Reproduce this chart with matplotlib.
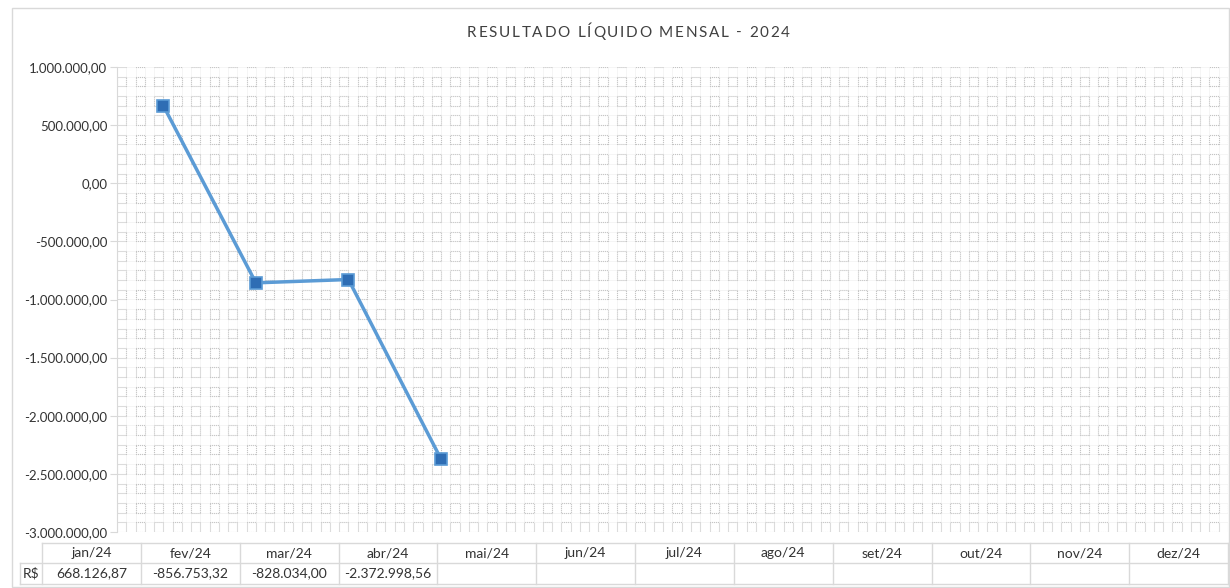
import matplotlib
matplotlib.use("Agg")
import numpy as np
import matplotlib.pyplot as plt
from matplotlib.ticker import MultipleLocator, FuncFormatter
from matplotlib.patches import Rectangle
from matplotlib.lines import Line2D

plt.rcParams["lines.scale_dashes"] = False

# ---- data ----
months = ["jan/24", "fev/24", "mar/24", "abr/24", "mai/24", "jun/24",
          "jul/24", "ago/24", "set/24", "out/24", "nov/24", "dez/24"]
values = [668126.87, -856753.32, -828034.00, -2372998.56]
series_label = "R$"
title = "RESULTADO LÍQUIDO MENSAL - 2024"

W, H = 1230, 588
fig = plt.figure(figsize=(W / 100, H / 100), dpi=100)
FONT = "Lato"

def fx(px):
    return px / W

def fy(py):
    return 1 - py / H

# outer chart border
fig.patches.append(Rectangle((fx(12), fy(587)), fx(1229) - fx(12), fy(8) - fy(587),
                             transform=fig.transFigure, fill=False,
                             edgecolor="#d9d9d9", lw=1.0))

ax = fig.add_axes([fx(117), fy(532), fx(1228) - fx(117), fy(67) - fy(532)])

def fmt(v, pos=None):
    s = f"{abs(v):,.2f}".replace(",", "X").replace(".", ",").replace("X", ".")
    return ("-" if v < 0 else "") + s

ymin, ymax = -3000000, 1000000
ystep = 500000 / 6
xstep = 0.1
ax.set_xlim(-0.5, len(months) - 0.5)
ax.set_ylim(ymin, ymax)

# grid: faint dotted continuous lines + box-pattern overlay
pt = 0.72
xs_pt = 1111 / 12 * xstep * 0.72
ys_pt = 465 / 48 * 0.72
h_pattern = (0, (pt, pt) * 4 + (pt, 2 * xs_pt - 9 * pt))
v_pattern = (0, (pt, pt) * 4 + (pt, 2 * ys_pt - 9 * pt))
for yv in np.arange(ymin, ymax + 1, ystep):
    ax.axhline(yv, color="#ececec", lw=0.7, ls=(0, (pt, pt)), zorder=0.5)
    ax.axhline(yv, color="#c4c4c4", lw=0.8, ls=h_pattern, zorder=0.6)
for xv in np.arange(-0.5, len(months) - 0.5 + 1e-9, xstep):
    ax.axvline(xv, color="#ececec", lw=0.7, ls=(0, (pt, pt)), zorder=0.5)
    ax.axvline(xv, color="#c4c4c4", lw=0.8, ls=v_pattern, zorder=0.6)

x = list(range(len(values)))
ax.plot(x, values, color="#5B9BD5", lw=2.5, marker="s", ms=9,
        mfc="#2E6DB4", mec="#5B9BD5", mew=1.2, zorder=5, solid_capstyle="round")

ax.yaxis.set_major_locator(MultipleLocator(500000))
ax.yaxis.set_major_formatter(FuncFormatter(fmt))
ax.set_xticks([])
for s in ["top", "right", "bottom"]:
    ax.spines[s].set_visible(False)
ax.spines["left"].set_color("#d9d9d9")
ax.tick_params(axis="y", which="major", length=5, color="#d9d9d9",
               labelsize=9.5, labelcolor="#333333", pad=2)
for lab in ax.get_yticklabels():
    lab.set_fontfamily(FONT)

# ---- data table ----
tbl_left, tbl_right = 42, 1228
rs_left = 20
y_top, y_mid, y_bot = 543, 563, 584
colw = (tbl_right - tbl_left) / len(months)
lc = "#d9d9d9"
def hline(x0, x1, y):
    fig.lines.append(Line2D([fx(x0), fx(x1)], [fy(y), fy(y)], transform=fig.transFigure, color=lc, lw=1))
def vline(xp, y0, y1):
    fig.lines.append(Line2D([fx(xp), fx(xp)], [fy(y0), fy(y1)], transform=fig.transFigure, color=lc, lw=1))

hline(tbl_left, tbl_right, y_top)
hline(rs_left, tbl_right, y_mid)
hline(rs_left, tbl_right, y_bot)
vline(rs_left, y_mid, y_bot)
for i in range(len(months) + 1):
    vline(tbl_left + i * colw, y_top, y_bot)

for i, m in enumerate(months):
    cx = tbl_left + (i + 0.5) * colw
    fig.text(fx(cx), fy((y_top + y_mid) / 2), m, ha="center", va="center",
             fontsize=10, family=FONT, color="#333333")
    if i < len(values):
        fig.text(fx(cx), fy((y_mid + y_bot) / 2), fmt(values[i]), ha="center", va="center",
                 fontsize=10, family=FONT, color="#333333")
fig.text(fx((rs_left + tbl_left) / 2), fy((y_mid + y_bot) / 2), series_label,
         ha="center", va="center", fontsize=10, family=FONT, color="#333333")

# ---- tracked title ----
renderer = fig.canvas.get_renderer()
title_left, title_right, title_y = 467, 790, 33
chars = []
widths = []
for ch in title:
    t = fig.text(0, 0, ch if ch != " " else "\u00a0", fontsize=11, family=FONT, color="#404040",
                 ha="left", va="center")
    chars.append(t)
for t, ch in zip(chars, title):
    if ch == " ":
        widths.append(4.0)
    else:
        widths.append(t.get_window_extent(renderer).width)
n = len(title)
track = ((title_right - title_left) - sum(widths)) / (n - 1)
xp = title_left
for t, w in zip(chars, widths):
    t.set_position((fx(xp), fy(title_y)))
    xp += w + track

fig.savefig("out.png", dpi=100)
